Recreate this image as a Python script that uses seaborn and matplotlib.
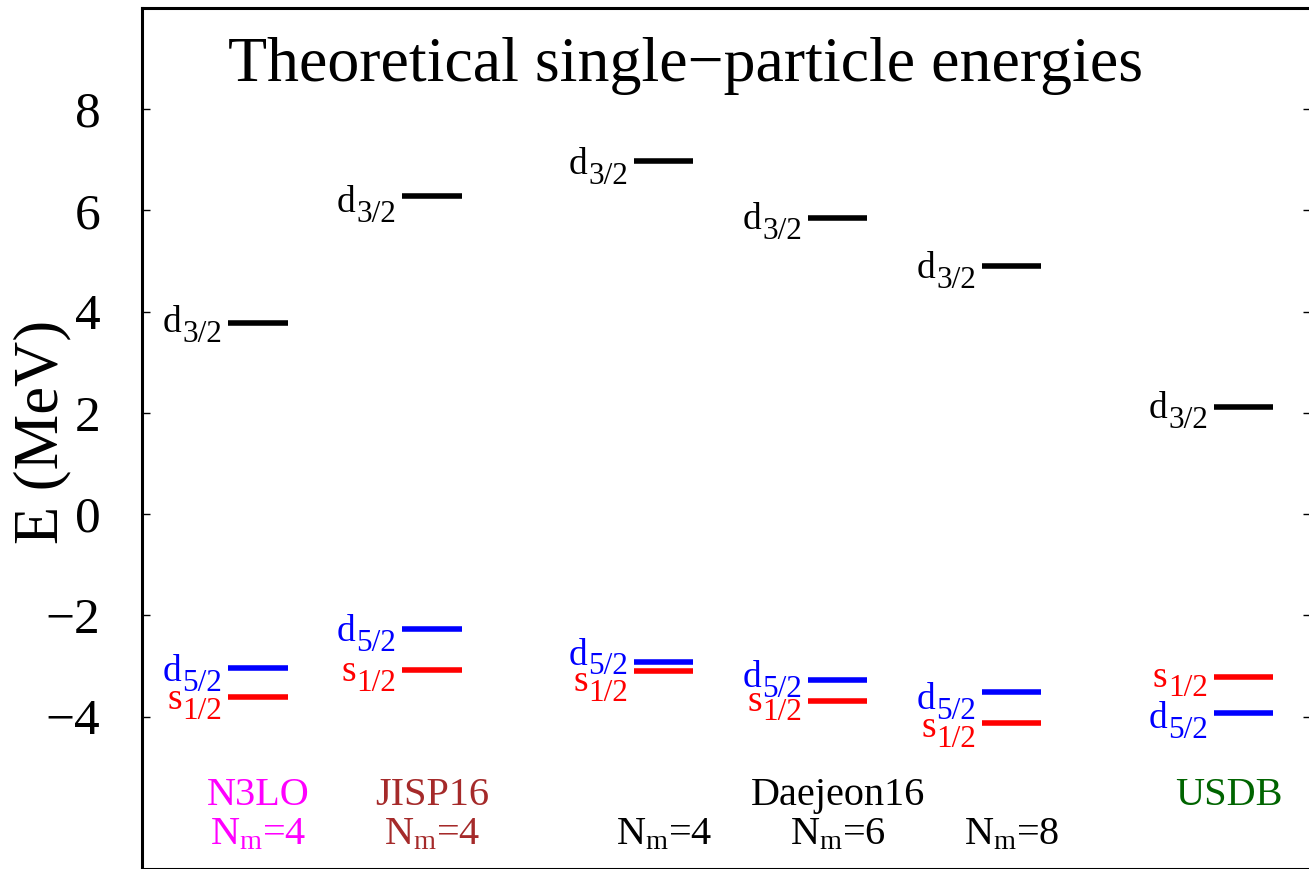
import numpy as np
import pandas as pd
import matplotlib
matplotlib.use("Agg")
import matplotlib.pyplot as plt
import seaborn as sns

# Single-particle energies (MeV) for each calculation
columns = ["N3LO Nm=4", "JISP16 Nm=4", "Daejeon16 Nm=4",
           "Daejeon16 Nm=6", "Daejeon16 Nm=8", "USDB"]
e_d32 = [3.78, 6.29, 6.97, 5.85, 4.90, 2.112]
e_d52 = [-3.03, -2.26, -2.93, -3.28, -3.51, -3.926]
e_s12 = [-3.62, -3.07, -3.10, -3.69, -4.12, -3.208]

orbitals = ["d3/2", "d5/2", "s1/2"]
orbital_letter = {"d3/2": "d", "d5/2": "d", "s1/2": "s"}
orbital_sub = {"d3/2": "3/2", "d5/2": "5/2", "s1/2": "1/2"}
orbital_color = {"d3/2": "black", "d5/2": "#0000ff", "s1/2": "#ff0000"}

interactions = ["N3LO", "JISP16", "Daejeon16", "USDB"]
interaction_colors = ["#ff00ff", "#a52a2a", "black", "#006400"]
nmax_values = ["4", "4", "4", "6", "8"]

# ---- layout ----
col_x = [2 / 3, 5 / 3, 3.0, 4.0, 5.0, 19 / 3]
half_w = 0.17
interaction_x = [col_x[0], col_x[1], col_x[3], 6.25]
nmax_colors = [interaction_colors[0], interaction_colors[1], "black", "black", "black"]
# vertical nudges (points) of the level labels, mostly for close-lying levels
label_nudge = {
    (0, "d3/2"): 1.4, (0, "d5/2"): -1.7, (0, "s1/2"): -0.5,
    (1, "d3/2"): -4.0, (1, "d5/2"): -1.0, (1, "s1/2"): -0.3,
    (2, "d3/2"): -1.2, (2, "d5/2"): 6.5, (2, "s1/2"): -6.5,
    (3, "d3/2"): 0.0, (3, "d5/2"): 2.9, (3, "s1/2"): 1.0,
    (4, "d3/2"): -0.4, (4, "d5/2"): -4.3, (4, "s1/2"): -2.2,
    (5, "d3/2"): 0.0, (5, "d5/2"): -2.9, (5, "s1/2"): 0.7,
}

sns.set_theme(style="white")
plt.rcParams["font.family"] = ["Liberation Serif", "DejaVu Serif"]
plt.rcParams["mathtext.fontset"] = "custom"
plt.rcParams["mathtext.rm"] = "Liberation Serif"
plt.rcParams["mathtext.it"] = "Liberation Serif:italic"
plt.rcParams["lines.solid_capstyle"] = "butt"
for key in ("text.color", "axes.labelcolor", "xtick.color", "ytick.color",
            "axes.edgecolor"):
    plt.rcParams[key] = "black"

W, H = 1309, 869
fig = plt.figure(figsize=(W / 100, H / 100), dpi=100)
ax = fig.add_axes([142 / W, 0.5 / H, 1169 / W, 860.5 / H])

energies = {"d3/2": e_d32, "d5/2": e_d52, "s1/2": e_s12}
rows = []
for i, name in enumerate(columns):
    for orb in orbitals:
        e = energies[orb][i]
        for dx in (-half_w, half_w):
            rows.append({"x": col_x[i] + dx, "E": e, "orbital": orb,
                         "seg": f"{name}|{orb}"})
levels = pd.DataFrame(rows)

sns.lineplot(data=levels, x="x", y="E", hue="orbital", units="seg",
             estimator=None, sort=False, palette=orbital_color,
             hue_order=orbitals, linewidth=4.0, legend=False, ax=ax)

# level labels: main letter with a lowered, smaller subscript
main_fs, sub_fs = 27, 22.5
for i in range(len(columns)):
    for orb in orbitals:
        e = energies[orb][i]
        nudge = label_nudge.get((i, orb), 0.0)
        col = orbital_color[orb]
        sub = ax.annotate(orbital_sub[orb], xy=(col_x[i] - half_w, e),
                          xytext=(-4.5, -15.0 + nudge), textcoords="offset points",
                          ha="right", va="baseline", fontsize=sub_fs, color=col)
        ax.annotate(orbital_letter[orb], xy=(0, e), xycoords=(sub, "data"),
                    xytext=(-0.3, -8.0 + nudge), textcoords="offset points",
                    ha="right", va="baseline", fontsize=main_fs, color=col)

# calculation labels along the bottom
for name, x, c in zip(interactions, interaction_x, interaction_colors):
    ax.text(x, -5.74, name, ha="center", va="baseline", fontsize=29, color=c)
for nm, x, c in zip(nmax_values, col_x[:5], nmax_colors):
    ax.text(x, -6.53, r"N$_{\mathrm{m}}$=" + nm, ha="center", va="baseline",
            fontsize=29, color=c)

ax.text(0.465, 0.915, "Theoretical single\u2212particle energies",
        transform=ax.transAxes, ha="center", va="baseline", fontsize=46,
        color="black")

ax.set_xlim(0, 6.72)
ax.set_ylim(-7, 10)
yt = [-4, -2, 0, 2, 4, 6, 8]
ax.set_yticks(yt)
ax.set_yticklabels([str(v).replace("-", "\u2212") for v in yt])
ax.set_xticks([])
ax.tick_params(axis="y", which="both", direction="in", length=6, width=1,
               left=True, right=True, labelsize=37, pad=30, color="black",
               labelcolor="black")
ax.set_xlabel("")
ax.set_ylabel("E (MeV)", fontsize=45, va="center", color="black")
ax.yaxis.set_label_coords(-0.0855, 0.507)

for s in ax.spines.values():
    s.set_visible(True)
    s.set_color("black")
    s.set_linewidth(2.2)

fig.savefig("out.png", dpi=100)
